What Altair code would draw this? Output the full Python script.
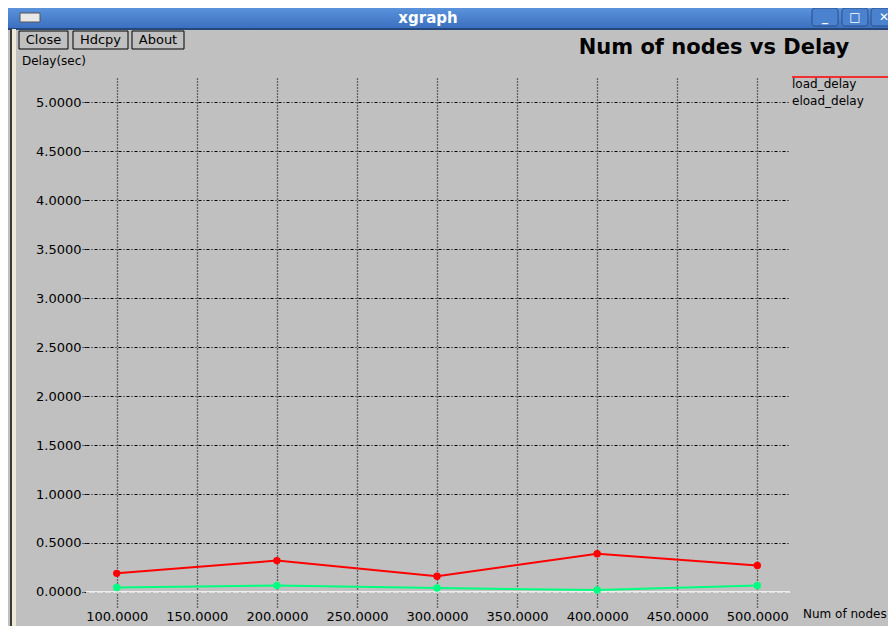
import altair as alt
import pandas as pd

# ---- data ----
num_nodes = [100, 200, 300, 400, 500]
load_delay = [0.19, 0.32, 0.16, 0.39, 0.27]
eload_delay = [0.045, 0.065, 0.04, 0.02, 0.065]
series_names = ["load_delay", "eload_delay"]
series_colors = ["#ff0000", "#00ff80"]
x_ticks = [100, 150, 200, 250, 300, 350, 400, 450, 500]
y_ticks = [0.5, 1.0, 1.5, 2.0, 2.5, 3.0, 3.5, 4.0, 4.5, 5.0]
buttons = ["Close", "Hdcpy", "About"]

rows = []
for name, vals in zip(series_names, [load_delay, eload_delay]):
    for n, v in zip(num_nodes, vals):
        rows.append({"nodes": n, "delay": v, "series": name})
df = pd.DataFrame(rows)

FONT = "DejaVu Sans"
GREY = "#c0c0c0"

xscale = alt.Scale(domain=[80.8, 520.4], nice=False, zero=False)
yscale = alt.Scale(domain=[-0.164, 5.249], nice=False, zero=False)
cscale = alt.Scale(domain=series_names, range=series_colors)

base = alt.Chart(df)

grid = alt.Chart(pd.DataFrame({"nodes": [100.0], "delay": [0.0]})).mark_point(opacity=0).encode(
    x=alt.X("nodes:Q", scale=xscale,
            axis=alt.Axis(values=x_ticks, format=".4f", title=None, grid=True,
                          gridColor="black", gridDash=[1, 2], gridWidth=1.3,
                          ticks=False, domain=False, labelPadding=2,
                          labelFont=FONT, labelFontSize=13, labelColor="black")),
    y=alt.Y("delay:Q", scale=yscale,
            axis=alt.Axis(values=[0.0] + y_ticks, format=".4f", title=None, grid=True,
                          gridColor="black", gridDash=[3, 2, 1, 2], gridWidth=1,
                          ticks=True, tickSize=4, tickColor="black", tickDash=[2, 1],
                          domain=False, labelPadding=1,
                          labelFont=FONT, labelFontSize=13, labelColor="black")),
)

zero_line = alt.Chart(pd.DataFrame({"delay": [0.0]})).mark_rule(color="white", strokeWidth=1.5).encode(
    y=alt.Y("delay:Q", scale=yscale),
)

lines = base.mark_line(strokeWidth=2).encode(
    x=alt.X("nodes:Q", scale=xscale),
    y=alt.Y("delay:Q", scale=yscale),
    color=alt.Color("series:N", scale=cscale, legend=None),
)
points = base.mark_circle(size=55, opacity=1).encode(
    x=alt.X("nodes:Q", scale=xscale),
    y=alt.Y("delay:Q", scale=yscale),
    color=alt.Color("series:N", scale=cscale, legend=None),
)

# ---- window chrome (xgraph) ----
one = pd.DataFrame({"a": [0]})
titlebar = alt.Chart(one).mark_rect(
    color=alt.Gradient(gradient="linear", x1=0, y1=0, x2=0, y2=1,
                       stops=[alt.GradientStop(color="#5d96de", offset=0),
                              alt.GradientStop(color="#3b70c0", offset=1)])
).encode(x=alt.value(-80), x2=alt.value(820), y=alt.value(-72), y2=alt.value(-50))
titleedge = alt.Chart(one).mark_rule(color="#26477a", strokeWidth=2).encode(
    x=alt.value(-80), x2=alt.value(820), y=alt.value(-49))
leftedge = alt.Chart(one).mark_rule(color="#3a3a3a", strokeWidth=2).encode(
    x=alt.value(-75), y=alt.value(-49), y2=alt.value(560))
leftlight = alt.Chart(one).mark_rule(color="#ece9d8", strokeWidth=4).encode(
    x=alt.value(-72), y=alt.value(-49), y2=alt.value(560))
icon = alt.Chart(one).mark_rect(color="#e8e8e8", stroke="#555555", strokeWidth=1).encode(
    x=alt.value(-66), x2=alt.value(-46), y=alt.value(-65), y2=alt.value(-56))
wintitle = alt.Chart(one).mark_text(text="xgraph", font=FONT, fontSize=15, fontWeight="bold",
                                    color="white", baseline="middle", align="center").encode(
    x=alt.value(342), y=alt.value(-60))
winbtn_df = pd.DataFrame({"x1": [726, 756, 785], "x2": [752, 782, 811], "g": ["_", "\u25a1", "\u2715"]})
winbtns = alt.Chart(winbtn_df).mark_rect(color="#4a82d0", stroke="#2b4f88", strokeWidth=1,
                                         cornerRadius=3).encode(
    x=alt.X("x1:Q", scale=None), x2="x2:Q", y=alt.value(-70), y2=alt.value(-52))
winbtn_txt = alt.Chart(winbtn_df).transform_calculate(xc="(datum.x1 + datum.x2) / 2").mark_text(
    font=FONT, fontSize=12, fontWeight="bold", color="white", baseline="middle").encode(
    x=alt.X("xc:Q", scale=None), y=alt.value(-61), text="g:N")

btn_df = pd.DataFrame({"label": buttons, "x1": [-67, -13, 46], "x2": [-18, 42, 98]})
btn_boxes = alt.Chart(btn_df).mark_rect(fill=GREY, stroke="black", strokeWidth=1).encode(
    x=alt.X("x1:Q", scale=None), x2="x2:Q", y=alt.value(-47), y2=alt.value(-29))
btn_text = alt.Chart(btn_df).transform_calculate(xc="(datum.x1 + datum.x2) / 2").mark_text(
    font=FONT, fontSize=13, color="black", baseline="middle").encode(
    x=alt.X("xc:Q", scale=None), y=alt.value(-38), text="label:N")

ylabel = alt.Chart(one).mark_text(text="Delay(sec)", font=FONT, fontSize=12, color="black",
                                  align="left", baseline="middle").encode(
    x=alt.value(-64), y=alt.value(-17))
xlabel = alt.Chart(one).mark_text(text="Num of nodes", font=FONT, fontSize=12, color="black",
                                  align="left", baseline="middle").encode(
    x=alt.value(717), y=alt.value(536))
title = alt.Chart(one).mark_text(text="Num of nodes vs Delay", font=FONT, fontSize=21,
                                 fontWeight="bold", color="black", align="center",
                                 baseline="middle").encode(
    x=alt.value(628), y=alt.value(-30))

leg_line = alt.Chart(one).mark_rule(color=series_colors[0], strokeWidth=1.5).encode(
    x=alt.value(706), x2=alt.value(802), y=alt.value(-1))
leg_df = pd.DataFrame({"name": series_names, "yy": [6, 23]})
leg_text = alt.Chart(leg_df).mark_text(font=FONT, fontSize=12, color="black", align="left",
                                       baseline="middle").encode(
    x=alt.value(706), y=alt.Y("yy:Q", scale=None), text="name:N")

chart = alt.layer(
    grid, zero_line, lines, points,
    titlebar, titleedge, leftlight, leftedge, icon, wintitle, winbtns, winbtn_txt,
    btn_boxes, btn_text, ylabel, xlabel, title, leg_line, leg_text,
).properties(
    width=704, height=530,
    autosize=alt.AutoSizeParams(type="none"),
    padding={"left": 78, "top": 70, "right": 98, "bottom": 18},
    background=GREY,
).configure_view(stroke=None)

chart.save("out.html", embed_options={"renderer": "svg", "actions": False})
